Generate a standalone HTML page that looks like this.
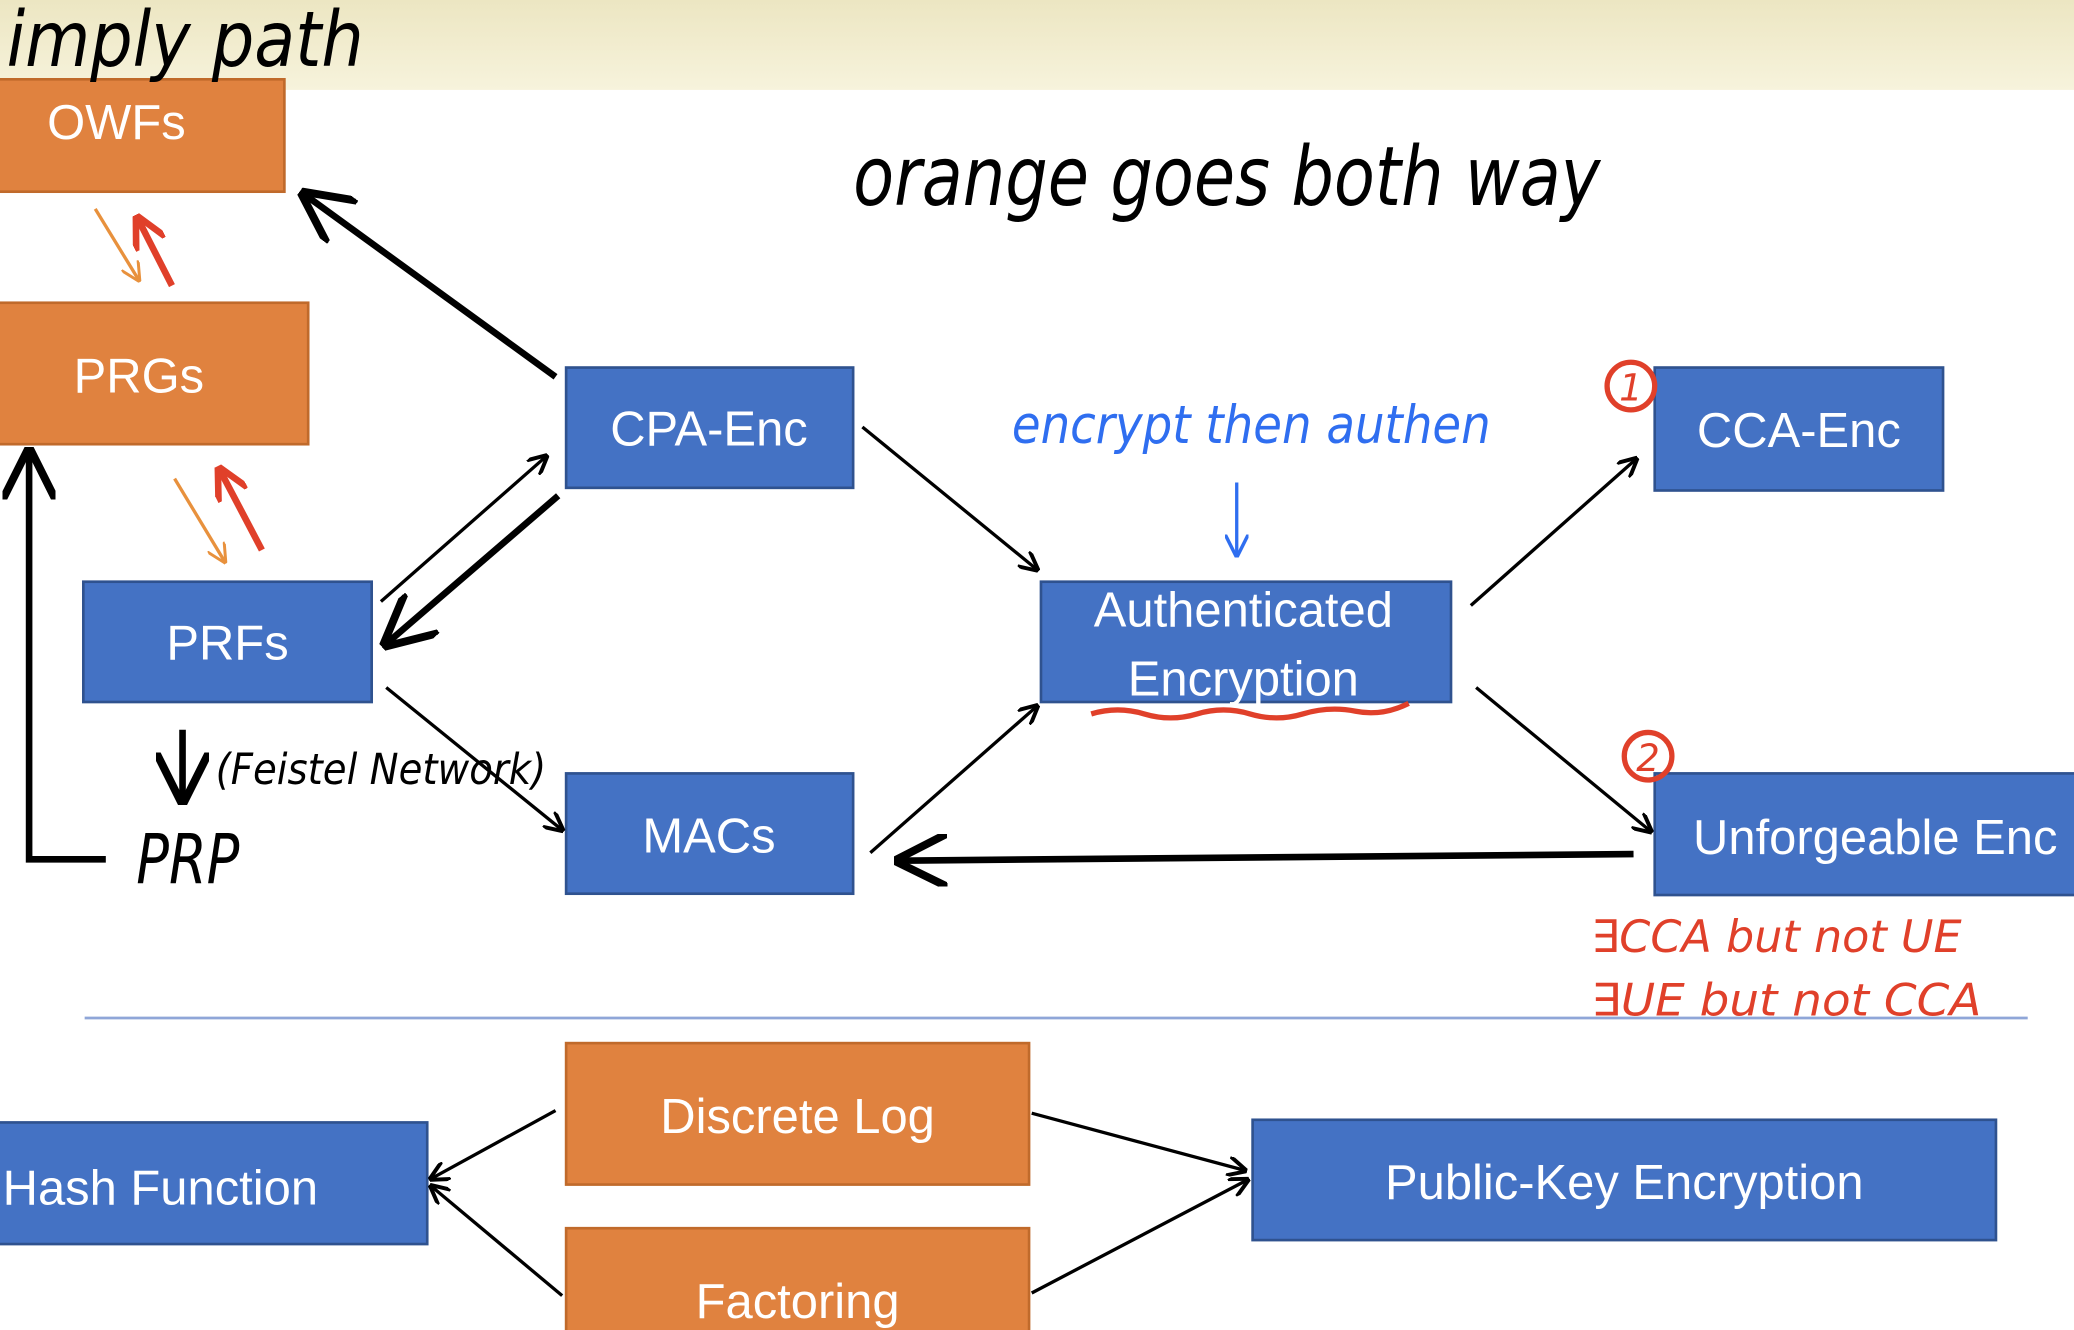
<!DOCTYPE html>
<html><head><meta charset="utf-8">
<style>
html,body{margin:0;padding:0;width:2074px;height:1330px;overflow:hidden;background:#fff}
svg{display:block}
.bt{font-family:"Liberation Sans",sans-serif;font-size:37px;fill:#fff}
.hw{font-family:"DejaVu Sans","Liberation Sans",sans-serif;font-style:italic}
</style></head>
<body>
<svg width="2074" height="1330" viewBox="0 0 1568 1006" preserveAspectRatio="none">
<defs>
<linearGradient id="yb" x1="0" y1="0" x2="0" y2="1"><stop offset="0" stop-color="#ece6c2"/><stop offset="1" stop-color="#f7f3dc"/></linearGradient>
<marker id="ah" viewBox="0 0 10 10" refX="9" refY="5" markerWidth="8" markerHeight="8" orient="auto-start-reverse"><path d="M0,0 L10,5 L0,10" fill="none" stroke="#000" stroke-width="1.5"/></marker>
<marker id="ahT" viewBox="0 0 10 10" refX="8" refY="5" markerWidth="6" markerHeight="6" orient="auto"><path d="M0,0 L10,5 L0,10" fill="none" stroke="#000" stroke-width="2"/></marker>
<marker id="ahB" viewBox="0 0 10 10" refX="9" refY="5" markerWidth="7" markerHeight="7" orient="auto"><path d="M0,0 L10,5 L0,10" fill="none" stroke="#2f6ef0" stroke-width="1.5"/></marker>
<marker id="ahR" viewBox="0 0 10 10" refX="8" refY="5" markerWidth="5" markerHeight="5" orient="auto"><path d="M0,0 L10,5 L0,10" fill="none" stroke="#e0402a" stroke-width="2"/></marker>
<marker id="ahO" viewBox="0 0 10 10" refX="9" refY="5" markerWidth="6" markerHeight="6" orient="auto"><path d="M0,0 L10,5 L0,10" fill="none" stroke="#e8913d" stroke-width="1.5"/></marker>
</defs>
<rect x="0" y="0" width="1568" height="68" fill="url(#yb)"/>

<g><rect x="-2" y="60" width="217" height="85" fill="#e0823f" stroke="#c06a2b" stroke-width="2"/><text class="bt" x="88" y="105" text-anchor="middle">OWFs</text></g>
<g><rect x="-2" y="229" width="235" height="107" fill="#e0823f" stroke="#c06a2b" stroke-width="2"/><text class="bt" x="105" y="297" text-anchor="middle">PRGs</text></g>
<g><rect x="63" y="440" width="218" height="91" fill="#4472c4" stroke="#2f528f" stroke-width="2"/><text class="bt" x="172" y="499" text-anchor="middle">PRFs</text></g>
<g><rect x="428" y="278" width="217" height="91" fill="#4472c4" stroke="#2f528f" stroke-width="2"/><text class="bt" x="536" y="337" text-anchor="middle">CPA-Enc</text></g>
<g><rect x="428" y="585" width="217" height="91" fill="#4472c4" stroke="#2f528f" stroke-width="2"/><text class="bt" x="536" y="645" text-anchor="middle">MACs</text></g>
<g><rect x="787" y="440" width="310" height="91" fill="#4472c4" stroke="#2f528f" stroke-width="2"/><text class="bt" x="940" y="474" text-anchor="middle">Authenticated</text><text class="bt" x="940" y="526" text-anchor="middle">Encryption</text></g>
<g><rect x="1251" y="278" width="218" height="93" fill="#4472c4" stroke="#2f528f" stroke-width="2"/><text class="bt" x="1360" y="338" text-anchor="middle">CCA-Enc</text></g>
<g><rect x="1251" y="585" width="330" height="92" fill="#4472c4" stroke="#2f528f" stroke-width="2"/><text class="bt" x="1280" y="646">Unforgeable Enc</text></g>

<line x1="64" y1="770" x2="1533" y2="770" stroke="#8fa6d8" stroke-width="2"/>

<g><rect x="428" y="789" width="350" height="107" fill="#e0823f" stroke="#c06a2b" stroke-width="2"/><text class="bt" x="603" y="857" text-anchor="middle">Discrete Log</text></g>
<g><rect x="-2" y="849" width="325" height="92" fill="#4472c4" stroke="#2f528f" stroke-width="2"/><text class="bt" x="2" y="911">Hash Function</text></g>
<g><rect x="428" y="929" width="350" height="90" fill="#e0823f" stroke="#c06a2b" stroke-width="2"/><text class="bt" x="603" y="997" text-anchor="middle">Factoring</text></g>
<g><rect x="947" y="847" width="562" height="91" fill="#4472c4" stroke="#2f528f" stroke-width="2"/><text class="bt" x="1228" y="907" text-anchor="middle">Public-Key Encryption</text></g>

<g fill="none">
<line x1="420" y1="285" x2="230" y2="147" stroke="#000" stroke-width="5" marker-end="url(#ah)"/>
<line x1="288" y1="455" x2="412" y2="346" stroke="#000" stroke-width="2.5" marker-end="url(#ahT)"/>
<line x1="422" y1="375" x2="292" y2="487" stroke="#000" stroke-width="5" marker-end="url(#ah)"/>
<line x1="652" y1="323" x2="783" y2="430" stroke="#000" stroke-width="2.5" marker-end="url(#ahT)"/>
<line x1="292" y1="520" x2="424" y2="627" stroke="#000" stroke-width="2.5" marker-end="url(#ahT)"/>
<line x1="658" y1="645" x2="783" y2="535" stroke="#000" stroke-width="2.5" marker-end="url(#ahT)"/>
<line x1="1112" y1="458" x2="1236" y2="348" stroke="#000" stroke-width="2.5" marker-end="url(#ahT)"/>
<line x1="1116" y1="520" x2="1247" y2="628" stroke="#000" stroke-width="2.5" marker-end="url(#ahT)"/>
<line x1="1235" y1="646" x2="680" y2="651" stroke="#000" stroke-width="5" marker-end="url(#ah)"/>
<polyline points="80,650 22,650 22,342" stroke="#000" stroke-width="5" marker-end="url(#ah)"/>
<line x1="138" y1="552" x2="138" y2="605" stroke="#000" stroke-width="5" marker-end="url(#ah)"/>
<line x1="420" y1="840" x2="327" y2="891" stroke="#000" stroke-width="2.5" marker-end="url(#ahT)"/>
<line x1="425" y1="980" x2="327" y2="898" stroke="#000" stroke-width="2.5" marker-end="url(#ahT)"/>
<line x1="780" y1="842" x2="940" y2="885" stroke="#000" stroke-width="2.5" marker-end="url(#ahT)"/>
<line x1="780" y1="978" x2="942" y2="893" stroke="#000" stroke-width="2.5" marker-end="url(#ahT)"/>
<line x1="72" y1="158" x2="105" y2="212" stroke="#e8913d" stroke-width="2.5" marker-end="url(#ahO)"/>
<line x1="132" y1="362" x2="170" y2="425" stroke="#e8913d" stroke-width="2.5" marker-end="url(#ahO)"/>
<line x1="130" y1="216" x2="105" y2="167" stroke="#e0402a" stroke-width="5" marker-end="url(#ahR)"/>
<line x1="198" y1="416" x2="167" y2="357" stroke="#e0402a" stroke-width="5" marker-end="url(#ahR)"/>
<line x1="935" y1="365" x2="935" y2="420" stroke="#2f6ef0" stroke-width="2.5" marker-end="url(#ahB)"/>
<path d="M825,540 q20,-6 40,0 t40,0 t40,0 t40,0 t40,-2 t40,-6" stroke="#e0402a" stroke-width="4"/>
<circle cx="1233" cy="292" r="18" stroke="#e0402a" stroke-width="4"/>
<circle cx="1246" cy="572" r="18" stroke="#e0402a" stroke-width="4"/>
</g>

<g>
<text class="hw" x="5" y="50" font-size="58" fill="#000" textLength="270" lengthAdjust="spacingAndGlyphs">imply path</text>
<text class="hw" x="645" y="155" font-size="62" fill="#000" textLength="565" lengthAdjust="spacingAndGlyphs">orange goes both way</text>
<text class="hw" x="765" y="335" font-size="40" fill="#2f6ef0" textLength="362" lengthAdjust="spacingAndGlyphs">encrypt then authen</text>
<text class="hw" x="163" y="593" font-size="32" fill="#000" textLength="250" lengthAdjust="spacingAndGlyphs">(Feistel Network)</text>
<text class="hw" x="103" y="668" font-size="52" fill="#000" textLength="78" lengthAdjust="spacingAndGlyphs">PRP</text>
<text class="hw" x="1233" y="303" font-size="28" fill="#e0402a" text-anchor="middle">1</text>
<text class="hw" x="1246" y="583" font-size="28" fill="#e0402a" text-anchor="middle">2</text>
<text class="hw" x="1203" y="720" font-size="34" fill="#e0402a" textLength="280" lengthAdjust="spacingAndGlyphs">∃CCA  but not UE</text>
<text class="hw" x="1203" y="768" font-size="34" fill="#e0402a" textLength="295" lengthAdjust="spacingAndGlyphs">∃UE  but not CCA</text>
</g>
</svg>
</body></html>
